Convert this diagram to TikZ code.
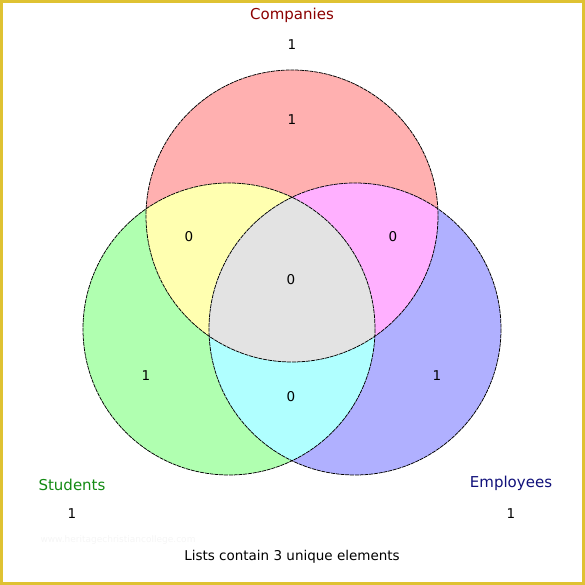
\documentclass[tikz,border=0pt]{standalone}
\usepackage{fontspec}
\setmainfont{DejaVu Sans}
\usetikzlibrary{positioning}
\definecolor{VennRed}{HTML}{FFB0B0}
\definecolor{VennGreen}{HTML}{B0FFB0}
\definecolor{VennBlue}{HTML}{B0B0FF}
\definecolor{VennYellow}{HTML}{FFFFB0}
\definecolor{VennPink}{HTML}{FFB0FF}
\definecolor{VennCyan}{HTML}{B0FFFF}
\definecolor{VennCore}{HTML}{E3E3E3}
\definecolor{FrameGold}{HTML}{DFC232}
\definecolor{TitleRed}{HTML}{8B0000}
\definecolor{TitleGreen}{HTML}{138A13}
\definecolor{TitleBlue}{HTML}{10107A}

\begin{document}
\begin{tikzpicture}[x=1pt,y=-1pt,
  count/.style={font=\fontsize{13.5}{15}\selectfont,inner sep=0pt},
  setname/.style={font=\fontsize{15}{17}\selectfont,inner sep=0pt},
  rim/.style={draw=black,line width=0.75pt,dash pattern=on 4pt off 0.8pt}]
  \useasboundingbox (0,0) rectangle (585,585);
  \draw[FrameGold,line width=3.2pt] (1.6,1.6) rectangle (583.4,583.4);
  % set circles
  \def\rad{146}
  \coordinate (comp) at (292,216);
  \coordinate (stud) at (229,329);
  \coordinate (empl) at (355,329);
  \fill[VennRed] (comp) circle (\rad);
  \fill[VennGreen] (stud) circle (\rad);
  \fill[VennBlue] (empl) circle (\rad);
  \begin{scope}
    \clip (comp) circle (\rad);
    \fill[VennYellow] (stud) circle (\rad);
    \fill[VennPink] (empl) circle (\rad);
  \end{scope}
  \begin{scope}
    \clip (stud) circle (\rad);
    \fill[VennCyan] (empl) circle (\rad);
    \clip (empl) circle (\rad);
    \fill[VennCore] (comp) circle (\rad);
  \end{scope}
  \draw[rim] (comp) circle (\rad);
  \draw[rim] (stud) circle (\rad);
  \draw[rim] (empl) circle (\rad);
  % region counts
  \node[count] (nC) at (292,120) {1};
  \node[count] (nCS) at (189,237) {0};
  \node[count] (nCE) at (393,237) {0};
  \node[count] (nCSE) at (291,280) {0};
  \node[count] (nS) at (146,376) {1};
  \node[count] (nE) at (437,376) {1};
  \node[count] (nSE) at (291,397) {0};
  % set names and totals
  \node[setname,text=TitleRed] (tC) at (292,15) {Companies};
  \node[count] (totC) at (292,45) {1};
  \node[setname,text=TitleGreen] (tS) at (72,485) {Students};
  \node[count] (totS) at (72,514) {1};
  \node[setname,text=TitleBlue] (tE) at (511,483) {Employees};
  \node[count] (totE) at (511,514) {1};
  \node[font=\fontsize{9}{10}\selectfont,text=black!4,inner sep=0pt] (mark) at (118,540)
    {www.heritagechristiancollege.com};
  \node[count] (note) at (292,557) {Lists contain 3 unique elements};
\end{tikzpicture}
\end{document}
